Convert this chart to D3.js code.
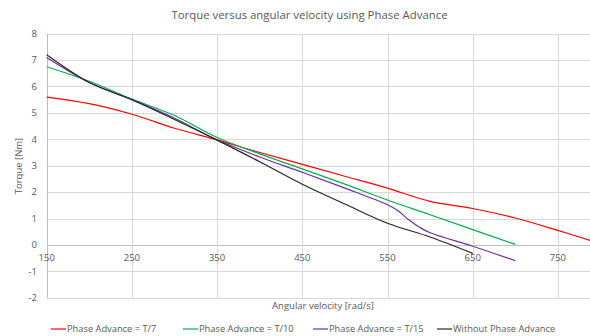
<!DOCTYPE html>
<html lang="en">
<head>
    <meta charset="UTF-8">
    <title>Torque versus angular velocity</title>
    <script src="https://d3js.org/d3.v7.min.js"></script>
    <style>
        body { margin: 0; background: #fff; }
        text { font-family: "Open Sans", "Liberation Sans", sans-serif; fill: #595959; }
    </style>
</head>
<body>
    <svg width="590" height="336"></svg>

    <script>
        // Data
        const xTicks = [150, 250, 350, 450, 550, 650, 750];
        const yTicks = [-2, -1, 0, 1, 2, 3, 4, 5, 6, 7, 8];

        const speedT7 = [150, 200, 250, 300, 350, 400, 450, 500, 550, 600, 650, 700, 750, 790];
        const torqueT7 = [5.6, 5.35, 4.95, 4.42, 3.98, 3.5, 3.05, 2.6, 2.15, 1.65, 1.38, 1.02, 0.55, 0.15];

        const speedT10 = [150, 200, 250, 300, 350, 400, 450, 500, 550, 600, 650, 700];
        const torqueT10 = [6.75, 6.2, 5.52, 4.9, 4.07, 3.45, 2.88, 2.3, 1.7, 1.14, 0.58, 0.02];

        const speedT15 = [150, 200, 250, 300, 350, 400, 450, 500, 550, 562, 575, 588, 600, 650, 700];
        const torqueT15 = [7.1, 6.15, 5.5, 4.8, 3.98, 3.33, 2.75, 2.15, 1.52, 1.3, 0.95, 0.66, 0.46, -0.05, -0.6];

        const speedNone = [150, 200, 250, 300, 350, 400, 450, 500, 550, 600, 650];
        const torqueNone = [7.2, 6.15, 5.5, 4.75, 3.97, 3.15, 2.3, 1.55, 0.82, 0.3, -0.32];

        const seriesNames = ["Phase Advance = T/7", "Phase Advance = T/10", "Phase Advance = T/15", "Without Phase Advance"];
        const seriesColors = ["#ff0000", "#00b050", "#7030a0", "#262626"];

        const series = [
            d3.zip(speedT7, torqueT7),
            d3.zip(speedT10, torqueT10),
            d3.zip(speedT15, torqueT15),
            d3.zip(speedNone, torqueNone)
        ];

        const width = 590, height = 336;
        const svg = d3.select("svg");

        const xScale = d3.scaleLinear()
                         .domain([150, 800])
                         .range([46.7, 600.5]);

        const yScale = d3.scaleLinear()
                         .domain([-2, 8])
                         .range([297.7, 33.7]);

        // Gridlines
        svg.append("g")
           .selectAll("line")
           .data(yTicks)
           .join("line")
           .attr("x1", xScale(150))
           .attr("x2", width)
           .attr("y1", d => Math.round(yScale(d)) + 0.5)
           .attr("y2", d => Math.round(yScale(d)) + 0.5)
           .attr("stroke", d => d === 0 ? "#bfbfbf" : "#d9d9d9")
           .attr("stroke-width", 1);

        svg.append("g")
           .selectAll("line")
           .data(xTicks)
           .join("line")
           .attr("x1", d => Math.round(xScale(d)) + 0.5)
           .attr("x2", d => Math.round(xScale(d)) + 0.5)
           .attr("y1", yScale(8))
           .attr("y2", yScale(-2))
           .attr("stroke", d => d === 150 ? "#bfbfbf" : "#d9d9d9")
           .attr("stroke-width", 1);

        // Tick labels
        svg.append("g")
           .selectAll("text")
           .data(yTicks)
           .join("text")
           .attr("x", 37)
           .attr("y", d => yScale(d))
           .attr("dy", "0.35em")
           .attr("text-anchor", "end")
           .style("font-size", "9.5px")
           .text(d => d);

        svg.append("g")
           .selectAll("text")
           .data(xTicks)
           .join("text")
           .attr("x", d => xScale(d))
           .attr("y", yScale(0) + 13)
           .attr("dy", "0.35em")
           .attr("text-anchor", "middle")
           .style("font-size", "9.5px")
           .text(d => d);

        // Lines
        const line = d3.line()
                       .x(d => xScale(d[0]))
                       .y(d => yScale(d[1]))
                       .curve(d3.curveCatmullRom.alpha(0.5));

        svg.append("g")
           .selectAll("path")
           .data(series)
           .join("path")
           .attr("fill", "none")
           .attr("stroke", (d, i) => seriesColors[i])
           .attr("stroke-width", 1.2)
           .attr("d", line);

        // Title
        svg.append("text")
           .attr("x", 309.5)
           .attr("y", 15)
           .attr("dy", "0.35em")
           .attr("text-anchor", "middle")
           .style("font-size", "11.4px")
           .text("Torque versus angular velocity using Phase Advance");

        // Axis titles
        svg.append("text")
           .attr("x", 323)
           .attr("y", 305.5)
           .attr("dy", "0.35em")
           .attr("text-anchor", "middle")
           .style("font-size", "9.5px")
           .text("Angular velocity [rad/s]");

        svg.append("text")
           .attr("transform", "translate(19,166) rotate(-90)")
           .attr("dy", "0.35em")
           .attr("text-anchor", "middle")
           .style("font-size", "9.5px")
           .text("Torque [Nm]");

        // Legend
        const legendX = [51, 183, 313, 437];
        const legend = svg.append("g")
                          .selectAll("g")
                          .data(seriesNames)
                          .join("g")
                          .attr("transform", (d, i) => `translate(${legendX[i]}, 329)`);

        legend.append("line")
              .attr("x1", 0)
              .attr("x2", 15)
              .attr("stroke", (d, i) => seriesColors[i])
              .attr("stroke-width", 1.2);

        legend.append("text")
              .attr("x", 16)
              .attr("dy", "0.35em")
              .style("font-size", "9.3px")
              .text(d => d);
    </script>
</body>
</html>
